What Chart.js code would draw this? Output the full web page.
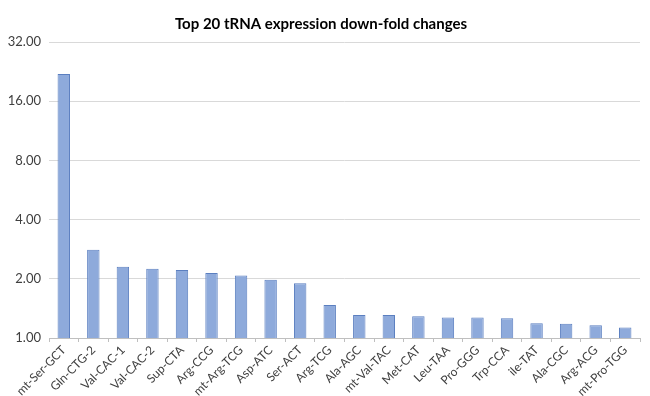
<!DOCTYPE html>
<html>
<head>
<meta charset="utf-8">
<script src="https://cdn.jsdelivr.net/npm/chart.js@4"></script>
<style>
  html, body { margin: 0; padding: 0; background: #fff; }
  #wrap { width: 650px; height: 396px; position: relative; }
</style>
</head>
<body>
<div id="wrap"><canvas id="chart"></canvas></div>
<script>
var trnaNames = ['mt-Ser-GCT', 'Gln-CTG-2', 'Val-CAC-1', 'Val-CAC-2', 'Sup-CTA', 'Arg-CCG',
    'mt-Arg-TCG', 'Asp-ATC', 'Ser-ACT', 'Arg-TCG', 'Ala-AGC', 'mt-Val-TAC', 'Met-CAT',
    'Leu-TAA', 'Pro-GGG', 'Trp-CCA', 'ile-TAT', 'Ala-CGC', 'Arg-ACG', 'mt-Pro-TGG'];
var foldDown = [22.0, 2.81, 2.30, 2.25, 2.22, 2.14, 2.08, 1.98, 1.90, 1.47, 1.31, 1.31,
    1.29, 1.27, 1.27, 1.26, 1.19, 1.18, 1.16, 1.13];
var yTicks = [1, 2, 4, 8, 16, 32];

var ctx = document.getElementById('chart').getContext('2d');

var myChart = new Chart(ctx, {
    type: 'bar',
    data: {
        labels: trnaNames,
        datasets: [{
            label: 'Fold change',
            data: foldDown,
            backgroundColor: '#8eaadb',
            borderColor: '#5b7fc0',
            borderWidth: 1,
            barPercentage: 0.42,
            categoryPercentage: 1.0
        }]
    },
    options: {
        responsive: true,
        maintainAspectRatio: false,
        animation: false,
        layout: { padding: { top: 0, right: 10, bottom: 0, left: 2 } },
        plugins: {
            legend: { display: false },
            tooltip: { enabled: false },
            title: {
                display: true,
                text: 'Top 20 tRNA expression down-fold changes',
                color: '#000',
                font: { family: 'Lato', size: 15, weight: 'bold' },
                padding: { top: 15, bottom: 9 }
            }
        },
        scales: {
            x: {
                afterFit: function (axis) { axis.height = 58; },
                grid: {
                    drawOnChartArea: false,
                    drawTicks: true,
                    tickLength: 4,
                    color: '#bfbfbf'
                },
                border: { color: '#bfbfbf' },
                ticks: {
                    minRotation: 45,
                    maxRotation: 45,
                    color: '#404040',
                    font: { family: 'Lato', size: 12 },
                    padding: 1
                }
            },
            y: {
                type: 'logarithmic',
                min: 1,
                max: 32,
                afterBuildTicks: function (axis) {
                    axis.ticks = yTicks.map(function (v) { return { value: v }; });
                },
                afterFit: function (axis) { axis.width = 47; },
                grid: { color: '#d9d9d9', drawTicks: false },
                border: { display: false },
                ticks: {
                    color: '#404040',
                    font: { family: 'Lato', size: 13 },
                    padding: 8,
                    callback: function (v) { return Number(v).toFixed(2); }
                }
            }
        }
    }
});
</script>
</body>
</html>
